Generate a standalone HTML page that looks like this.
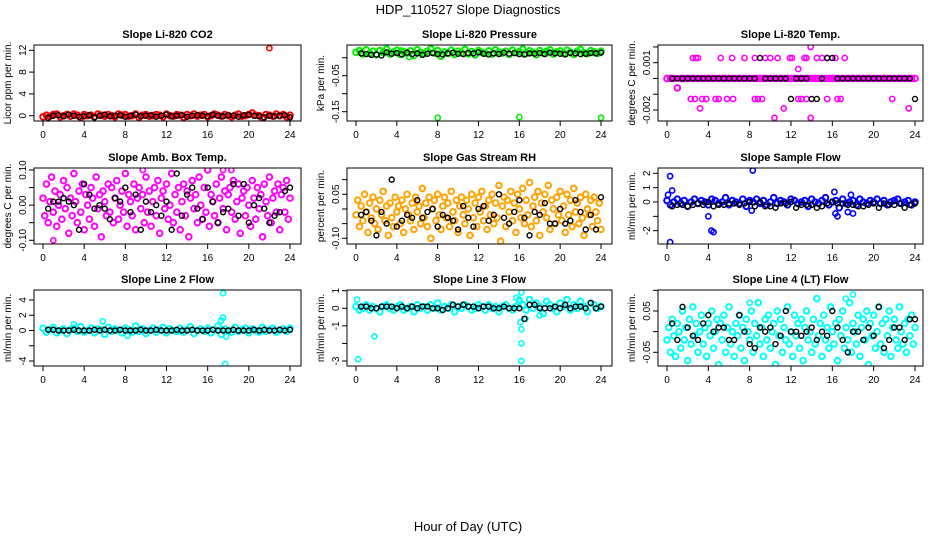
<!DOCTYPE html>
<html><head><meta charset="utf-8"><style>
html,body{margin:0;padding:0;background:#fff;}
svg{display:block;font-family:"Liberation Sans",sans-serif;}
</style></head><body>
<svg id="chart" width="936" height="540" viewBox="0 0 936 540">
<text x="468" y="14" text-anchor="middle" font-size="13">HDP_110527  Slope Diagnostics</text>
<text x="468" y="531" text-anchor="middle" font-size="13">Hour of Day (UTC)</text>
</svg>
<script>
// ---- data ----
const xTicks = [0,4,8,12,16,20,24];
const co2Color = [-0.2,0.1,-0.1,0.2,0.3,-0.2,0.0,0.2,-0.1,0.3,0.1,-0.3,0.2,0.0,0.1,-0.2,0.3,0.1,-0.1,0.2,0.0,-0.2,0.3,0.1,0.2,-0.1,0.0,0.3,-0.3,0.1,0.2,-0.1,0.0,0.2,0.1,-0.2,0.3,0.0,-0.1,0.2,0.1,-0.3,0.2,0.0,0.3,-0.1,0.1,0.2,-0.2,0.0,0.3,0.1,-0.1,0.2,0.0,-0.2,0.1,0.3,-0.1,0.0,0.2,0.5,0.1,0.0,-0.4,0.2,0.1,-0.1,0.3,0.0,0.2,-0.2,0.1];
const co2Black = [-0.4,0.0,0.1,-0.1,0.2,0.0,-0.2,-0.1,0.1,-0.3,0.0,0.2,-0.1,0.0,0.1,-0.2,0.0,0.2,-0.1,0.0,0.1,-0.2,0.0,0.2,-0.1,0.0,0.1,-0.2,0.0,0.1,0.0,-0.1,0.2,0.0,-0.1,0.1,0.0,-0.2,0.1,0.2,0.0,-0.1,-0.3,0.0,-0.1,0.0,0.1,-0.3];
const co2OutHours = [22.0];
const co2OutVals = [12.4];

const presColor = [0.015,0.020,0.010,0.022,0.012,0.018,0.008,0.020,0.014,0.024,0.010,0.016,0.021,0.009,0.017,0.013,0.019,0.006,0.022,0.015,0.011,0.018,0.025,0.013,0.020,0.004,0.016,0.012,0.021,0.009,0.018,0.014,0.023,0.011,0.017,0.008,0.020,0.015,0.012,0.019,0.010,0.022,0.016,0.013,0.018,0.009,0.021,0.014,0.017,0.024,0.011,0.019,0.015,0.008,0.020,0.013,0.018,0.022,0.010,0.016,0.019,0.012,0.021,0.015,0.009,0.018,0.023,0.014,0.011,0.020,0.016,0.012,0.018];
const presBlack = [0.012,0.010,0.008,0.009,0.006,0.015,0.011,0.013,0.009,0.014,0.010,0.012,0.008,0.011,0.013,0.010,0.009,0.012,0.014,0.011,0.010,0.013,0.012,0.015,0.011,0.009,0.012,0.010,0.014,0.011,0.013,0.010,0.009,0.012,0.011,0.013,0.010,0.014,0.012,0.011,0.009,0.013,0.012,0.010,0.011,0.013,0.012,0.014];
const presOutHours = [8.0,16.0,24.0,4.4,5.2];
const presOutVals = [-0.167,-0.165,-0.167,0.020,0.002];

const tempColor = [0,0,0,-0.0006,0,0,0,0,0,0,0,0,0,0,0,0,0,0,0,0,0,0,0,0,0,0,0,0,0,0,0,0,0,0,0,0,0,0,0,0,0,0,0,0,0,0,0,0,0,0,0,0,0,0,0,0,0,0,0,0,0,0,0,0,0,0,0,0,0,0,0,0,0];
const tempBlack = [0,0,0,0,0,0,0,0,0,0,0,0,0,0,0,0,0,0.0013,0,0,0,0,0,-0.0013,0,0,0,-0.0013,-0.0013,0,0.0013,0.0013,0,0,0,0,0,0,0,0,0,0,0,0,0,0,0,-0.0013];
const tempOutHours = [2.5,2.8,3.0,5.2,6.3,7.5,8.5,9.5,10.0,10.7,11.9,12.1,13.3,13.5,14.5,15.0,15.5,16.3,17.2,2.3,2.7,3.4,3.8,4.7,5.0,5.8,6.4,8.5,8.8,9.2,12.7,13.0,13.5,15.5,16.5,16.8,21.8,3.2,11.3,23.4,10.4,13.9,13.9,12.7];
const tempOutVals = [0.0013,0.0013,0.0013,0.0013,0.0013,0.0013,0.0013,0.0013,0.0013,0.0013,0.0013,0.0013,0.0013,0.0013,0.0013,0.0013,0.0013,0.0013,0.0013,-0.0013,-0.0013,-0.0013,-0.0013,-0.0013,-0.0013,-0.0013,-0.0013,-0.0013,-0.0013,-0.0013,-0.0013,-0.0013,-0.0013,-0.0013,-0.0013,-0.0013,-0.0013,-0.0019,-0.0019,-0.0019,-0.0025,-0.0025,0.0020,0.0006];

const ambColor = [0.02,-0.03,0.06,-0.05,0.01,0.08,-0.02,0.04,-0.06,0.00,0.03,-0.04,0.07,-0.01,0.05,-0.08,0.02,-0.03,0.09,0.01,-0.05,0.04,-0.02,0.06,-0.07,0.03,0.00,-0.04,0.05,0.02,-0.06,0.08,-0.01,0.03,-0.09,0.04,0.01,-0.03,0.06,-0.02,0.05,-0.05,0.02,0.07,-0.04,0.00,0.04,-0.02,0.09,-0.06,0.03,0.01,-0.03,0.06,-0.07,0.02,0.05,-0.01,0.03,-0.05,0.08,-0.02,0.04,-0.06,0.01,0.05,-0.03,0.07,-0.08,0.02,0.04,-0.01,0.06,-0.04,0.00,0.09,-0.05,0.03,-0.02,0.05,-0.07,0.01,0.06,-0.03,0.04,-0.09,0.02,0.07,-0.01,0.03,-0.05,0.08,0.00,-0.04,0.05,-0.02,0.10,-0.06,0.03,0.01,-0.03,0.06,-0.05,0.02,0.08,-0.01,0.04,-0.07,0.03,0.05,-0.02,0.07,-0.04,0.01,0.06,-0.08,0.02,0.04,-0.03,0.05,0.00,-0.06,0.07,0.02,-0.04,0.05,-0.01,0.03,-0.09,0.06,0.01,-0.03,0.08,-0.05,0.02,0.04,-0.02,0.06,-0.07,0.03,0.05,-0.02,0.07,-0.04,0.02];
const ambBlack = [-0.01,0.01,0.01,0.02,0.01,0.00,-0.07,0.06,0.03,-0.01,0.00,-0.01,-0.04,0.02,0.01,0.05,-0.02,0.03,-0.07,0.01,-0.02,0.00,-0.03,0.01,-0.07,0.09,-0.03,0.03,0.05,-0.01,-0.04,0.05,0.01,-0.05,-0.02,-0.01,0.06,-0.03,0.06,-0.05,0.00,0.02,-0.01,-0.05,-0.03,-0.02,0.04,0.05];
const ambOutHours = [1.0,9.7,17.5,18.3];
const ambOutVals = [-0.10,0.10,0.10,0.10];

const rhColor = [-0.02,0.03,-0.06,0.01,-0.04,0.05,-0.01,-0.08,0.02,-0.03,0.04,-0.05,0.00,-0.07,0.03,-0.02,0.06,-0.04,0.01,-0.09,0.02,-0.03,-0.06,0.04,-0.01,0.01,-0.05,0.03,-0.08,0.00,0.05,-0.02,-0.04,0.02,-0.07,0.04,-0.01,0.01,-0.05,0.07,-0.03,0.02,-0.06,0.04,-0.10,0.00,0.03,-0.04,0.05,-0.02,-0.07,0.01,0.04,-0.03,0.02,-0.06,0.06,-0.01,-0.04,0.03,-0.08,0.01,0.04,-0.02,-0.05,0.03,0.00,-0.09,0.05,-0.03,0.02,-0.06,0.04,-0.01,0.06,-0.04,0.01,-0.07,0.03,-0.02,0.05,-0.05,0.02,-0.03,0.08,-0.11,0.01,0.04,-0.06,0.03,-0.01,0.06,-0.04,0.02,-0.08,0.05,0.00,-0.03,0.07,-0.05,0.03,-0.02,0.09,-0.06,0.01,0.04,-0.04,0.06,-0.09,0.02,-0.01,0.05,-0.03,0.08,-0.07,0.03,0.00,-0.05,0.04,-0.02,0.06,-0.04,0.01,-0.08,0.05,-0.02,0.03,-0.06,0.07,-0.01,0.02,-0.05,0.04,-0.03,-0.09,0.05,0.00,-0.02,0.03,-0.06,0.04,-0.01,-0.04,0.02,-0.07];
const rhBlack = [-0.02,-0.01,-0.04,-0.09,-0.01,-0.05,0.10,-0.06,-0.04,-0.02,-0.03,0.03,-0.03,-0.01,0.00,-0.06,-0.02,-0.03,-0.04,-0.07,0.01,-0.03,-0.06,0.00,0.01,-0.04,-0.02,0.05,-0.03,-0.05,-0.01,0.03,-0.03,-0.09,-0.01,-0.02,0.02,-0.05,-0.05,0.00,-0.05,-0.04,0.03,-0.01,-0.07,-0.02,-0.07,0.04];

const flowColor = [0.1,-0.2,0.0,0.2,-0.1,0.1,-0.3,0.0,0.2,-0.1,0.1,0.0,-0.2,0.2,0.1,-0.1,0.0,0.3,-0.2,0.1,0.0,-0.1,0.2,-0.3,0.1,0.0,0.2,-0.1,0.1,-0.2,0.0,0.3,-0.1,0.1,0.0,-0.2,0.2,0.1,-0.1,0.0,0.1,-0.3,0.2,0.0,-0.1,0.1,0.3,-0.2,0.0,0.1,-0.4,0.2,-0.1,0.0,0.1,-0.2,0.2,0.0,-0.1,0.1,0.0,0.2,-0.1,0.1,-0.2,0.0,0.1,0.2,-0.1,0.0,0.1,-0.2,0.0];
const flowBlack = [-0.3,-0.2,-0.2,-0.3,-0.2,-0.1,-0.2,0.0,-0.3,-0.2,-0.2,-0.1,-0.1,-0.2,-0.1,0.0,-0.3,0.0,-0.3,-0.3,-0.4,-0.1,-0.1,0.0,-0.4,-0.2,-0.2,-0.2,-0.4,-0.3,-0.1,0.0,-0.1,-0.1,-0.2,-0.2,-0.3,-0.3,-0.2,-0.1,-0.4,-0.1,-0.2,-0.2,-0.1,-0.4,-0.2,-0.1];
const flowOutHours = [0.3,0.5,0.1,0.3,4.0,4.3,4.5,8.3,8.2,16.2,16.3,16.5,17.5,18.0,17.8];
const flowOutVals = [1.8,0.8,0.5,-2.8,-1.0,-2.0,-2.1,2.2,-0.6,0.7,-0.8,-1.0,-0.7,-0.8,0.5];

const l2Color = [0.3,-0.2,0.1,0.4,-0.3,0.0,0.2,-0.4,0.1,0.3,-0.1,0.5,-0.2,0.0,0.3,-0.3,0.2,0.1,-0.5,0.4,-0.1,0.2,0.0,-0.3,0.3,0.1,-0.2,0.6,-0.1,0.2,-0.4,0.0,0.3,-0.2,0.1,0.4,-0.3,0.2,0.0,-0.1,0.3,-0.2,0.1,0.5,-0.4,0.0,0.2,-0.1,0.3,-0.3,0.1,0.6,-0.5,0.2,0.0,-0.2,0.4,-0.1,0.1,0.3,-0.3,0.2,0.0,-0.2,0.4,-0.1,0.1,0.3,-0.2,0.0,0.2,-0.1,0.3];
const l2Black = [0.1,0.1,0.0,0.0,0.0,0.1,0.0,0.0,0.0,0.1,0.0,0.1,0.0,0.0,0.1,0.0,0.0,0.0,0.1,0.0,0.0,0.1,0.0,0.0,0.0,0.1,0.0,0.0,0.1,0.0,0.0,0.0,0.1,0.0,0.0,0.0,0.1,0.0,0.0,0.0,0.1,0.0,0.1,0.0,0.0,0.1,0.0,0.1];
const l2OutHours = [17.5,17.7,17.5,17.3,5.8,8.2,17.8,3.0];
const l2OutVals = [4.9,-4.4,1.7,1.3,1.2,-0.7,-0.8,0.8];

const l3Color = [0.1,-0.1,0.0,0.2,-0.1,0.1,0.0,-0.2,0.1,0.2,0.0,-0.1,0.1,0.2,-0.1,0.0,0.1,-0.2,0.2,0.0,0.1,-0.1,0.2,0.0,0.3,-0.1,0.1,0.0,0.2,-0.2,0.1,0.0,0.2,0.1,-0.1,0.0,0.2,0.1,-0.1,0.2,0.0,0.1,-0.2,0.1,0.2,0.0,-0.1,0.1,0.4,0.2,-0.1,0.5,0.0,0.3,0.1,-0.3,0.4,0.2,0.0,-0.2,0.3,0.1,0.5,-0.1,0.2,0.0,0.4,0.1,-0.2,0.3,0.2,0.0,0.1];
const l3Black = [0.1,0.1,0.0,0.0,0.1,0.1,0.1,0.0,0.1,0.0,0.1,0.0,0.1,0.1,0.0,0.0,-0.1,0.0,0.2,0.1,0.2,0.1,0.1,0.0,0.1,0.1,0.0,0.0,0.1,0.0,0.0,0.0,-0.6,0.2,0.2,0.0,0.0,0.0,0.1,0.0,0.2,0.0,0.1,0.1,0.0,0.3,0.0,0.1];
const l3OutHours = [0.1,0.2,1.8,16.1,16.2,16.2,16.2,16.2,16.0,15.7,16.6,18.0];
const l3OutVals = [0.5,-2.9,-1.6,-0.8,-1.2,-2.0,-3.0,0.9,0.5,0.6,-0.6,-0.4];

const l4Color = [-0.02,0.01,-0.05,0.03,-0.01,-0.06,0.02,0.00,-0.04,0.05,-0.02,0.01,-0.07,0.03,-0.03,0.06,-0.01,0.02,-0.05,0.00,0.04,-0.03,0.01,-0.06,0.02,-0.01,0.05,-0.04,0.00,0.03,-0.08,0.02,-0.02,0.04,-0.05,0.01,0.06,-0.03,0.00,-0.06,0.02,-0.01,0.04,-0.04,0.01,-0.07,0.03,0.00,-0.02,0.05,-0.05,0.02,-0.01,0.07,-0.03,0.01,-0.06,0.03,-0.02,0.04,-0.04,0.00,0.02,-0.08,0.05,-0.01,0.03,-0.05,0.01,-0.02,0.06,-0.03,0.00,-0.06,0.04,-0.01,0.02,-0.04,0.03,-0.07,0.01,0.05,-0.02,0.00,-0.05,0.03,-0.03,0.08,-0.01,0.02,-0.06,0.04,-0.02,0.01,-0.04,0.06,0.00,-0.03,0.02,-0.07,0.03,-0.01,0.05,-0.04,0.01,-0.02,0.07,-0.05,0.02,0.00,-0.03,0.04,-0.06,0.01,0.03,-0.02,0.05,-0.08,0.02,-0.01,0.04,-0.04,0.00,0.06,-0.03,0.02,-0.05,0.03,-0.01,0.05,-0.06,0.01,0.03,-0.02,-0.04,0.06,0.00,-0.03,0.02,-0.05,0.03,-0.01,0.04,-0.03,0.01];
const l4Black = [0.02,-0.02,0.06,0.01,-0.01,-0.02,0.02,0.04,0.00,0.01,0.01,-0.02,-0.02,0.04,0.00,-0.03,-0.04,0.01,0.00,0.01,-0.03,-0.01,0.05,0.00,0.00,-0.01,0.00,0.01,-0.02,0.00,-0.01,0.05,0.01,-0.02,-0.05,0.00,0.00,-0.02,0.01,-0.01,0.06,-0.04,-0.02,0.01,0.01,-0.02,0.03,0.03];
const l4OutHours = [18.0,17.3,6.3,8.0];
const l4OutVals = [0.09,0.08,-0.09,0.07];

const colorStep = {co2:1/3,pres:1/3,temp:1/3,amb:1/6,rh:1/6,flow:1/3,l2:1/3,l3:1/3,l4:1/6};

const panels = [
 {id:'co2',title:'Slope Li-820 CO2',ylab:'Licor ppm per min.',box:[34,45,301,121],xp:[43,290],yr:[0,115.7,12,50.3],ticks:[0,4,8,12],labels:['0','4','8','12'],color:'#ff0000',c:co2Color,b:co2Black,oh:co2OutHours,ov:co2OutVals},
 {id:'pres',title:'Slope Li-820 Pressure',ylab:'kPa per min.',box:[347,45,612,121],xp:[356,601],yr:[-0.05,75.7,-0.15,111.7],ticks:[0,-0.05,-0.10,-0.15],labels:['','-0.05','','-0.15'],color:'#00ee00',c:presColor,b:presBlack,oh:presOutHours,ov:presOutVals},
 {id:'temp',title:'Slope Li-820 Temp.',ylab:'degrees C per min.',box:[658,45,923,121],xp:[667,915],yr:[0.001,62.7,-0.002,110],ticks:[0.002,0.001,0,-0.001,-0.002],labels:['','0.001','','','-0.002'],color:'#ff00ff',c:tempColor,b:tempBlack,oh:tempOutHours,ov:tempOutVals},
 {id:'amb',title:'Slope Amb. Box Temp.',ylab:'degrees C per min.',box:[34,168,301,244],xp:[43,290],yr:[0.1,170,-0.1,240.3],ticks:[0.1,0.05,0,-0.05,-0.1],labels:['0.10','','0.00','','-0.10'],color:'#ff00ff',c:ambColor,b:ambBlack,oh:ambOutHours,ov:ambOutVals},
 {id:'rh',title:'Slope Gas Stream RH',ylab:'percent per min.',box:[347,168,612,244],xp:[356,601],yr:[0.05,194.3,-0.10,238.3],ticks:[0.1,0.05,0,-0.05,-0.1],labels:['','0.05','','','-0.10'],color:'#ffa200',c:rhColor,b:rhBlack,oh:[],ov:[]},
 {id:'flow',title:'Slope Sample Flow',ylab:'ml/min per min.',box:[658,168,923,244],xp:[667,915],yr:[2,173.3,-2,230.7],ticks:[2,1,0,-1,-2],labels:['2','1','0','','-2'],color:'#0000ff',c:flowColor,b:flowBlack,oh:flowOutHours,ov:flowOutVals},
 {id:'l2',title:'Slope Line 2 Flow',ylab:'ml/min per min.',box:[34,290,301,366],xp:[43,290],yr:[4,300,-4,361],ticks:[4,2,0,-2,-4],labels:['4','2','0','','-4'],color:'#00ffff',c:l2Color,b:l2Black,oh:l2OutHours,ov:l2OutVals},
 {id:'l3',title:'Slope Line 3 Flow',ylab:'ml/min per min.',box:[347,290,612,366],xp:[356,601],yr:[1,290.7,-3,361],ticks:[1,0,-1,-2,-3],labels:['1','0','-1','','-3'],color:'#00ffff',c:l3Color,b:l3Black,oh:l3OutHours,ov:l3OutVals},
 {id:'l4',title:'Slope Line 4 (LT) Flow',ylab:'ml/min per min.',box:[658,290,923,366],xp:[667,915],yr:[0.05,311,-0.05,352.3],ticks:[0.1,0.05,0,-0.05],labels:['','0.05','','-0.05'],color:'#00ffff',c:l4Color,b:l4Black,oh:l4OutHours,ov:l4OutVals}
];

const NS='http://www.w3.org/2000/svg';
const svg=document.getElementById('chart');
function mk(tag,attrs,parent){const e=document.createElementNS(NS,tag);for(const k in attrs)e.setAttribute(k,attrs[k]);parent.appendChild(e);return e;}

panels.forEach(p=>{
  const [L,T,R,B]=p.box;
  const xs=h=>p.xp[0]+(p.xp[1]-p.xp[0])*h/24;
  const ys=v=>p.yr[1]+(v-p.yr[0])*(p.yr[3]-p.yr[1])/(p.yr[2]-p.yr[0]);
  const g=mk('g',{},svg);
  
  
  const clip=mk('clipPath',{id:'clip-'+p.id},g);
  mk('rect',{x:L,y:T,width:R-L,height:B-T},clip);
  const t=mk('text',{x:(L+R)/2,y:T-7,'text-anchor':'middle','font-size':'11','font-weight':'bold'},g);
  t.textContent=p.title;
  
  
  const yl=mk('text',{x:0,y:0,'text-anchor':'middle','font-size':'10',transform:`translate(${L-23},${(T+B)/2}) rotate(-90)`},g);
  yl.textContent=p.ylab;
  
  
  xTicks.forEach(h=>{
    const x=xs(h);
    mk('line',{x1:x,y1:B,x2:x,y2:B+5,stroke:'#000','stroke-width':1},g);
    const tl=mk('text',{x:x,y:B+17,'text-anchor':'middle','font-size':'10'},g);
    tl.textContent=String(h);
    
    
  });
  p.ticks.forEach((v,i)=>{
    const y=ys(v);
    mk('line',{x1:L-5,y1:y,x2:L,y2:y,stroke:'#000','stroke-width':1},g);
    if(p.labels[i]){
      const tl=mk('text',{x:0,y:0,'text-anchor':'middle','font-size':'10',transform:`translate(${L-8},${y}) rotate(-90)`},g);
      tl.textContent=p.labels[i];
      
      
    }
  });
  const pts=mk('g',{'clip-path':`url(#clip-${p.id})`,fill:'none'},g);
  const step=colorStep[p.id];
  p.c.forEach((v,i)=>{
    const c=mk('circle',{cx:xs(i*step),cy:ys(v),r:2.8,stroke:p.color,'stroke-width':2},pts);
    
    
  });
  p.oh.forEach((h,i)=>{
    const c=mk('circle',{cx:xs(h),cy:ys(p.ov[i]),r:2.6,stroke:p.color,'stroke-width':1.6},pts);
    
    
  });
  p.b.forEach((v,i)=>{
    const c=mk('circle',{cx:xs((i+1)*0.5),cy:ys(v),r:2.5,stroke:'#000','stroke-width':1.4},pts);
    
    
  });
  const box=mk('rect',{x:L,y:T,width:R-L,height:B-T,fill:'none',stroke:'#000','stroke-width':1},g);
  
  
});
</script>
</body></html>
